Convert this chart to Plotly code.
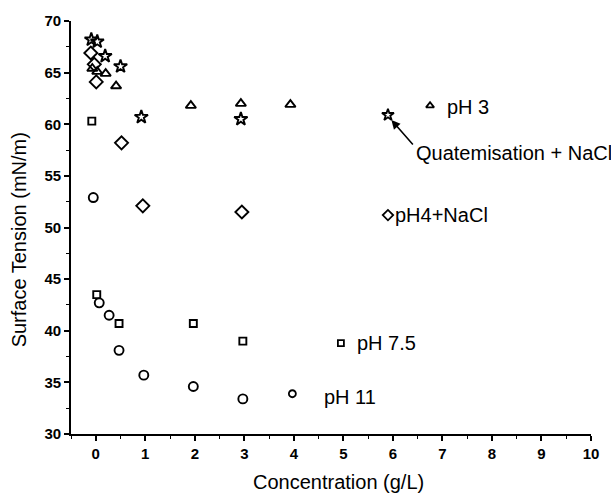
import plotly.graph_objects as go

# Surface tension (mN/m) versus concentration (g/L)
ph3_x = [-0.07, 0.03, 0.20, 0.41, 1.92, 2.93, 3.93]
ph3_y = [65.4, 65.1, 64.9, 63.7, 61.8, 62.0, 61.9]

quat_x = [-0.09, 0.03, 0.19, 0.50, 0.92, 2.93]
quat_y = [68.2, 68.0, 66.6, 65.6, 60.7, 60.5]

ph4nacl_x = [-0.10, -0.03, 0.01, 0.52, 0.95, 2.95]
ph4nacl_y = [66.9, 65.8, 64.1, 58.2, 52.1, 51.5]

ph75_x = [-0.08, 0.02, 0.47, 1.97, 2.97]
ph75_y = [60.3, 43.5, 40.7, 40.7, 39.0]

ph11_x = [-0.05, 0.07, 0.27, 0.47, 0.97, 1.97, 2.97]
ph11_y = [52.9, 42.7, 41.5, 38.1, 35.7, 34.6, 33.4]

# in-plot key: symbol and its caption for each series
key_names = ["pH 3", "Quatemisation + NaCl", "pH4+NaCl", "pH 7.5", "pH 11"]
key_x = [6.75, 5.90, 5.90, 4.95, 3.97]
key_y = [61.8, 60.9, 51.2, 38.8, 33.9]

x_ticks = list(range(0, 11))
y_ticks = list(range(30, 71, 5))

FONT = "Liberation Sans, Arial, sans-serif"
INK = "#000000"

series = [
    (ph3_x, ph3_y, "triangle-up-open", 9, 7),
    (quat_x, quat_y, "star-open", 10, 9),
    (ph4nacl_x, ph4nacl_y, "diamond-open", 10, 8),
    (ph75_x, ph75_y, "square-open", 7, 6),
    (ph11_x, ph11_y, "circle-open", 9, 7),
]

fig = go.Figure()
for (xs, ys, sym, sz, ksz), name, kx, ky in zip(series, key_names, key_x, key_y):
    fig.add_trace(go.Scatter(
        x=xs, y=ys, mode="markers", name=name,
        marker=dict(symbol=sym, size=sz, color=INK, line=dict(color=INK, width=1.9)),
    ))
    fig.add_trace(go.Scatter(
        x=[kx], y=[ky], mode="markers", showlegend=False,
        marker=dict(symbol=sym, size=ksz, color=INK, line=dict(color=INK, width=1.8)),
    ))

label_pos = [(7.05, 61.7), (6.43, 57.2), (6.01, 51.2), (5.23, 38.8), (4.56, 33.6)]
for name, (lx, ly) in zip(key_names, label_pos):
    fig.add_annotation(x=lx, y=ly, xref="x", yref="y", text=name, showarrow=False,
                       xanchor="left", yanchor="middle",
                       font=dict(family=FONT, size=20, color=INK))

# arrow from the caption up to the star symbol
fig.add_annotation(x=5.97, y=60.4, ax=6.43, ay=57.9, xref="x", yref="y",
                   axref="x", ayref="y", text="", showarrow=True,
                   arrowhead=2, arrowsize=1.1, arrowwidth=1.6, arrowcolor=INK,
                   standoff=0, startstandoff=0)

axis_common = dict(
    showline=True, linecolor=INK, linewidth=1.8, showgrid=False, zeroline=False,
    ticks="outside", ticklen=5, tickwidth=1.6, tickcolor=INK,
    tickfont=dict(family=FONT, size=15, color=INK, weight="bold"),
    minor=dict(ticks="outside", ticklen=3, tickwidth=1.3, tickcolor=INK),
)

fig.update_xaxes(range=[-0.5, 10], tickvals=x_ticks, ticktext=[str(v) for v in x_ticks],
                 minor_dtick=0.5, minor_tick0=0, **axis_common)
fig.update_yaxes(range=[30, 70], tickvals=y_ticks, ticktext=[str(v) for v in y_ticks],
                 minor_dtick=2.5, minor_tick0=30, **axis_common)

fig.add_annotation(x=0.5, y=-0.116, xref="paper", yref="paper", yanchor="middle",
                   text="Concentration (g/L)", showarrow=False,
                   font=dict(family=FONT, size=20, color=INK), xshift=7)
fig.add_annotation(x=-0.101, y=0.47, xref="paper", yref="paper", xanchor="center",
                   text="Surface Tension (mN/m)", textangle=-90, showarrow=False,
                   font=dict(family=FONT, size=20, color=INK))

fig.update_layout(
    width=611, height=495,
    margin=dict(l=71, r=14, t=19, b=61),
    paper_bgcolor="white", plot_bgcolor="white",
    showlegend=False,
)

fig.write_html("out.html")
